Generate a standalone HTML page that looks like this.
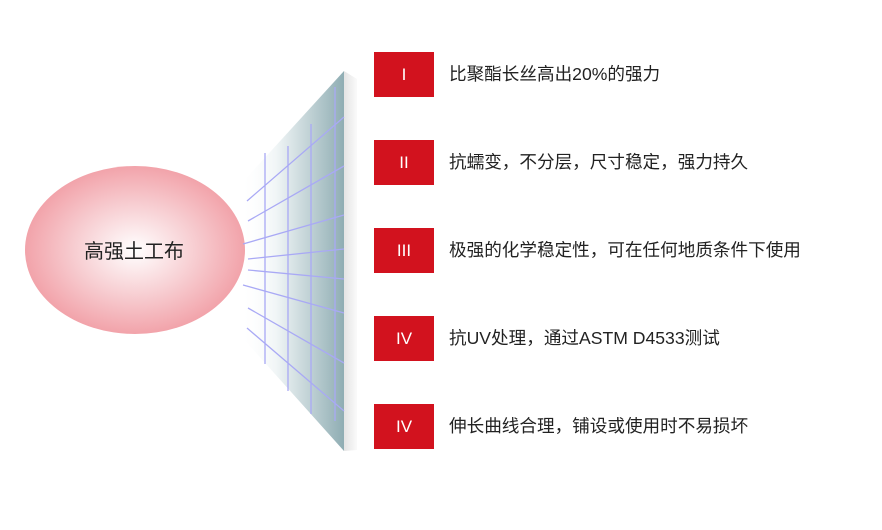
<!DOCTYPE html>
<html><head><meta charset="utf-8"><style>
body{margin:0;width:882px;height:530px;background:#fff;position:relative;overflow:hidden;font-family:"Liberation Sans","Noto Sans CJK SC",sans-serif}
.b{position:absolute;left:374px;width:60px;height:45px;background:#d2121e;color:#fff;font-size:17px;text-align:center;line-height:45px}
.t{position:absolute;left:449px;font-size:17.6px;color:#222;line-height:45px;white-space:nowrap}
</style></head><body>
<svg width="882" height="530" style="position:absolute;left:0;top:0">
<defs>
<radialGradient id="e" cx="0.5" cy="0.5" r="0.5"><stop offset="0" stop-color="#ffffff"/><stop offset="0.55" stop-color="#f7cdd1"/><stop offset="1" stop-color="#f2a3aa"/></radialGradient>
<linearGradient id="p" x1="0" x2="1" y1="0" y2="0"><stop offset="0" stop-color="#ffffff" stop-opacity="0"/><stop offset="0.35" stop-color="#f0f5f6"/><stop offset="1" stop-color="#8fadb3"/></linearGradient>
<linearGradient id="s" x1="0" x2="1"><stop offset="0" stop-color="#e4e4e4"/><stop offset="1" stop-color="#fafafa"/></linearGradient>
</defs>
<polygon points="344,71 357,79 357,450 344,451" fill="url(#s)"/>
<polygon points="240,185 344,71 344,451 240,335" fill="url(#p)"/>
<ellipse cx="135" cy="250" rx="110" ry="84" fill="url(#e)"/>
<g stroke="#a9a9f5" stroke-width="1.3">
<line x1="265" y1="153" x2="265" y2="364"/><line x1="288" y1="146" x2="288" y2="391"/>
<line x1="311" y1="124" x2="311" y2="414"/><line x1="335" y1="87" x2="335" y2="421"/>
<line x1="247" y1="201" x2="344" y2="117"/><line x1="248" y1="221" x2="344" y2="166"/>
<line x1="243" y1="244" x2="344" y2="215"/><line x1="248" y1="259" x2="344" y2="249"/>
<line x1="248" y1="270" x2="344" y2="279"/><line x1="243" y1="285" x2="344" y2="313"/>
<line x1="248" y1="308" x2="344" y2="363"/><line x1="247" y1="328" x2="344" y2="411"/>
</g>
<text x="134" y="258" font-size="20" text-anchor="middle" fill="#222" font-family="Liberation Sans,Noto Sans CJK SC,sans-serif">高强土工布</text>
</svg>
<div class="b" style="top:52px">I</div><div class="t" style="top:52px">比聚酯长丝高出20%的强力</div>
<div class="b" style="top:140px">II</div><div class="t" style="top:140px">抗蠕变，不分层，尺寸稳定，强力持久</div>
<div class="b" style="top:228px">III</div><div class="t" style="top:228px">极强的化学稳定性，可在任何地质条件下使用</div>
<div class="b" style="top:316px">IV</div><div class="t" style="top:316px">抗UV处理，通过ASTM D4533测试</div>
<div class="b" style="top:404px">IV</div><div class="t" style="top:404px">伸长曲线合理，铺设或使用时不易损坏</div>
</body></html>
